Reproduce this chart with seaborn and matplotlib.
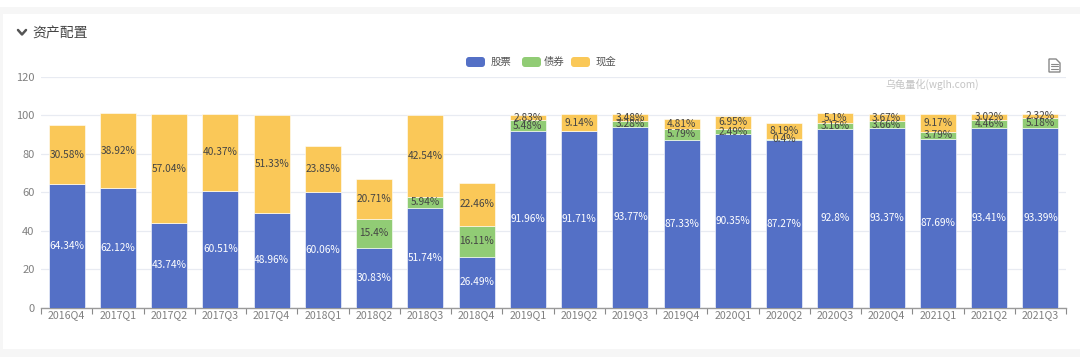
import matplotlib.pyplot as plt
import numpy as np
import pandas as pd
import seaborn as sns
from matplotlib.lines import Line2D
from matplotlib.patches import FancyBboxPatch, Polygon, Rectangle

quarters = ["2016Q4", "2017Q1", "2017Q2", "2017Q3", "2017Q4", "2018Q1", "2018Q2",
            "2018Q3", "2018Q4", "2019Q1", "2019Q2", "2019Q3", "2019Q4", "2020Q1",
            "2020Q2", "2020Q3", "2020Q4", "2021Q1", "2021Q2", "2021Q3"]
stocks = [64.34, 62.12, 43.74, 60.51, 48.96, 60.06, 30.83, 51.74, 26.49, 91.96,
          91.71, 93.77, 87.33, 90.35, 87.27, 92.8, 93.37, 87.69, 93.41, 93.39]
bonds = [0, 0, 0, 0, 0, 0, 15.4, 5.94, 16.11, 5.48,
         0, 3.28, 5.79, 2.49, 0.4, 3.16, 3.66, 3.79, 4.46, 5.18]
cash = [30.58, 38.92, 57.04, 40.37, 51.33, 23.85, 20.71, 42.54, 22.46, 2.83,
        9.14, 3.48, 4.81, 6.95, 8.19, 5.1, 3.67, 9.17, 3.02, 2.32]
series_names = ["股票", "债券", "现金"]
yticks = [0, 20, 40, 60, 80, 100, 120]

colors = ["#5470c6", "#91cc75", "#fac858"]
label_colors = ["#ffffff", "#444444", "#444444"]

sns.set_theme(style="white")
plt.rcParams['font.family'] = ['Noto Sans CJK SC', 'DejaVu Sans']


def main():
    W, H = 1080, 357
    fig = plt.figure(figsize=(W / 100, H / 100), dpi=100, facecolor="#f6f6f6")

    # white cards behind the chart
    fig.add_artist(Rectangle((0, 1 - 7 / H), 1, 7 / H, transform=fig.transFigure,
                             facecolor="white", edgecolor="none", zorder=-2))
    fig.add_artist(Rectangle((3 / W, 1 - 349 / H), 1, 335 / H, transform=fig.transFigure,
                             facecolor="white", edgecolor="none", zorder=-2))

    ax = fig.add_axes([41 / W, 1 - 307.5 / H, 1025 / W, 230.5 / H])
    ax.set_facecolor("none")

    df = pd.DataFrame({"quarter": quarters, "股票": stocks, "债券": bonds, "现金": cash})
    bottom = np.zeros(len(quarters))
    for name, color, text_color in zip(series_names, colors, label_colors):
        sns.barplot(data=df, x="quarter", y=name, color=color, bottom=bottom, width=0.7,
                    saturation=1, ax=ax, errorbar=None, zorder=3,
                    edgecolor="#ffffff", linewidth=0.4)
        container = ax.containers[-1]
        labels = [f"{v:g}%" if v > 0 else "" for v in df[name]]
        ax.bar_label(container, labels=labels, label_type="center", fontsize=7.3,
                     color=text_color, zorder=5,
                     fontweight="medium" if name == "股票" else "normal")
        bottom = bottom + df[name].to_numpy()

    ax.set_ylim(0, 120)
    ax.set_xlim(-0.5, len(quarters) - 0.5)
    ax.set_yticks(yticks)
    ax.set_xlabel("")
    ax.set_ylabel("")
    ax.grid(axis="y", color="#e8ebf2", linewidth=0.9, zorder=0)
    ax.set_axisbelow(True)
    sns.despine(ax=ax, left=True, top=True, right=True)
    ax.spines["bottom"].set_color("#9a9a9a")
    ax.spines["bottom"].set_linewidth(1.0)
    ax.set_xticks(np.arange(-0.5, len(quarters)), minor=True)
    ax.tick_params(axis="x", which="minor", length=4, width=0.8, color="#8a8a8a", bottom=True)
    ax.tick_params(axis="x", which="major", length=0, labelsize=7.6, labelcolor="#808080", pad=2)
    ax.tick_params(axis="y", length=0, labelsize=8, labelcolor="#808080", pad=4.7)

    # legend
    lx = [466, 522, 571]
    tx = [491, 544, 596]
    for x0, x1, color, name in zip(lx, tx, colors, series_names):
        fig.add_artist(FancyBboxPatch((x0 / W, 1 - 67 / H), 19 / W, 10 / H,
                                      boxstyle="round,pad=0,rounding_size=0.0028",
                                      mutation_aspect=W / H,
                                      transform=fig.transFigure, facecolor=color, edgecolor="none"))
        fig.text(x1 / W, 1 - 61.5 / H, name, fontsize=7.5, color="#555555", va="center")

    # title with chevron
    fig.add_artist(Line2D([18 / W, 22 / W, 26 / W], [1 - 30 / H, 1 - 34.5 / H, 1 - 30 / H],
                          color="#555555", linewidth=1.8))
    fig.text(32 / W, 1 - 33 / H, "资产配置", fontsize=10, color="#444444", va="center")

    # watermark
    fig.text(885 / W, 1 - 84 / H, "乌龟量化(wglh.com)", fontsize=7.3, color="#c4c4c4", va="center")

    # document icon
    fig.add_artist(Polygon([(1049 / W, 1 - 59 / H), (1056 / W, 1 - 59 / H), (1060 / W, 1 - 63 / H),
                            (1060 / W, 1 - 72 / H), (1049 / W, 1 - 72 / H)], closed=True,
                           transform=fig.transFigure, facecolor="white", edgecolor="#888888", linewidth=1))
    for yy in [63.5, 66, 68.5]:
        fig.add_artist(Line2D([1051 / W, 1058 / W], [1 - yy / H, 1 - yy / H], color="#888888", linewidth=0.8))

    fig.savefig("out.png", dpi=100, facecolor=fig.get_facecolor())


if __name__ == "__main__":
    main()
